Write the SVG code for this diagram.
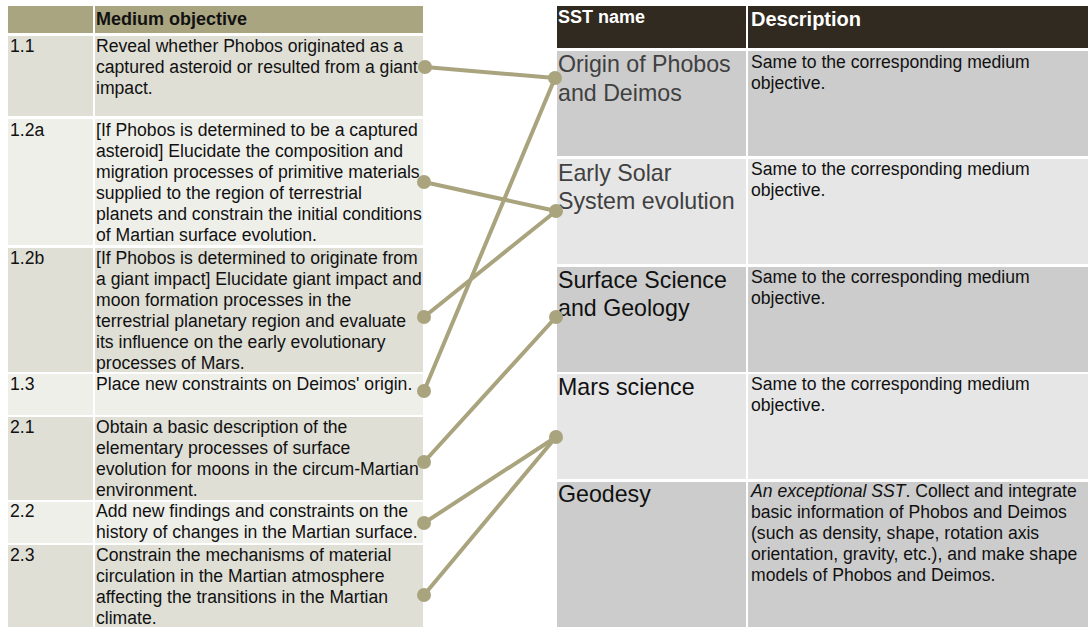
<svg xmlns="http://www.w3.org/2000/svg" width="1088" height="627" viewBox="0 0 1088 627">
<style>
text{font-family:"Liberation Sans",Arial,sans-serif}
.t{font-size:17.6px;fill:#111}
.hd{font-size:18px;font-weight:bold;fill:#111}
.hw{font-weight:bold;fill:#fff}
.sst{font-size:23.2px}
.g1{fill:#404040}
.g2{fill:#111}
.rA{fill:#dfdfd6}
.rB{fill:#efefea}
.cA{fill:#cccccc}
.cB{fill:#e6e6e6}
.con line{stroke:#a9a47e;stroke-width:4;stroke-linecap:round}
.con circle{fill:#a9a47e}
</style>
<rect width="1088" height="627" fill="#fff"/>
<g id="left-table">
<g id="left-header">
<rect x="8" y="6" width="85" height="27" fill="#aaa581"/>
<rect x="95" y="6" width="328" height="27" fill="#aaa581"/>
<text class="hd" x="96" y="25">Medium objective</text>
</g>
<g id="obj-1-1">
<rect class="rA" x="8" y="36" width="85" height="80"/>
<rect class="rA" x="95" y="36" width="328" height="80"/>
<text class="t" x="10" y="52">1.1</text>
<text class="t" x="96" y="52">Reveal whether Phobos originated as a</text>
<text class="t" x="96" y="73">captured asteroid or resulted from a giant</text>
<text class="t" x="96" y="94">impact.</text>
</g>
<g id="obj-1-2a">
<rect class="rB" x="8" y="119" width="85" height="126"/>
<rect class="rB" x="95" y="119" width="328" height="126"/>
<text class="t" x="10" y="136">1.2a</text>
<text class="t" x="96" y="136">[If Phobos is determined to be a captured</text>
<text class="t" x="96" y="157">asteroid] Elucidate the composition and</text>
<text class="t" x="96" y="178">migration processes of primitive materials</text>
<text class="t" x="96" y="199">supplied to the region of terrestrial</text>
<text class="t" x="96" y="220">planets and constrain the initial conditions</text>
<text class="t" x="96" y="241">of Martian surface evolution.</text>
</g>
<g id="obj-1-2b">
<rect class="rA" x="8" y="248" width="85" height="124"/>
<rect class="rA" x="95" y="248" width="328" height="124"/>
<text class="t" x="10" y="264">1.2b</text>
<text class="t" x="96" y="264">[If Phobos is determined to originate from</text>
<text class="t" x="96" y="285">a giant impact] Elucidate giant impact and</text>
<text class="t" x="96" y="306">moon formation processes in the</text>
<text class="t" x="96" y="327">terrestrial planetary region and evaluate</text>
<text class="t" x="96" y="348">its influence on the early evolutionary</text>
<text class="t" x="96" y="369">processes of Mars.</text>
</g>
<g id="obj-1-3">
<rect class="rB" x="8" y="374" width="85" height="41"/>
<rect class="rB" x="95" y="374" width="328" height="41"/>
<text class="t" x="10" y="390">1.3</text>
<text class="t" x="96" y="390">Place new constraints on Deimos' origin.</text>
</g>
<g id="obj-2-1">
<rect class="rA" x="8" y="417" width="85" height="83"/>
<rect class="rA" x="95" y="417" width="328" height="83"/>
<text class="t" x="10" y="433">2.1</text>
<text class="t" x="96" y="433">Obtain a basic description of the</text>
<text class="t" x="96" y="454">elementary processes of surface</text>
<text class="t" x="96" y="475">evolution for moons in the circum-Martian</text>
<text class="t" x="96" y="496">environment.</text>
</g>
<g id="obj-2-2">
<rect class="rB" x="8" y="502" width="85" height="41"/>
<rect class="rB" x="95" y="502" width="328" height="41"/>
<text class="t" x="10" y="517">2.2</text>
<text class="t" x="96" y="517">Add new findings and constraints on the</text>
<text class="t" x="96" y="538">history of changes in the Martian surface.</text>
</g>
<g id="obj-2-3">
<rect class="rA" x="8" y="545" width="85" height="82"/>
<rect class="rA" x="95" y="545" width="328" height="82"/>
<text class="t" x="10" y="561">2.3</text>
<text class="t" x="96" y="561">Constrain the mechanisms of material</text>
<text class="t" x="96" y="582">circulation in the Martian atmosphere</text>
<text class="t" x="96" y="603">affecting the transitions in the Martian</text>
<text class="t" x="96" y="624">climate.</text>
</g>
</g>
<g id="right-table">
<g id="right-header">
<rect x="557" y="6" width="189" height="42" fill="#302a20"/>
<rect x="748" y="6" width="340" height="42" fill="#302a20"/>
<text class="hw" x="558" y="23" font-size="18">SST name</text>
<text class="hw" x="751" y="26" font-size="20">Description</text>
</g>
<g id="sst-origin">
<rect class="cA" x="557" y="51" width="189" height="105"/>
<rect class="cA" x="748" y="51" width="340" height="105"/>
<text class="sst g1" x="558" y="72">Origin of Phobos</text>
<text class="sst g1" x="558" y="101">and Deimos</text>
<text class="t" x="751" y="68">Same to the corresponding medium</text>
<text class="t" x="751" y="89">objective.</text>
</g>
<g id="sst-early">
<rect class="cB" x="557" y="159" width="189" height="105"/>
<rect class="cB" x="748" y="159" width="340" height="105"/>
<text class="sst g1" x="558" y="181">Early Solar</text>
<text class="sst g1" x="558" y="209">System evolution</text>
<text class="t" x="751" y="175">Same to the corresponding medium</text>
<text class="t" x="751" y="196">objective.</text>
</g>
<g id="sst-surface">
<rect class="cA" x="557" y="267" width="189" height="105"/>
<rect class="cA" x="748" y="267" width="340" height="105"/>
<text class="sst g2" x="558" y="288">Surface Science</text>
<text class="sst g2" x="558" y="316">and Geology</text>
<text class="t" x="751" y="283">Same to the corresponding medium</text>
<text class="t" x="751" y="304">objective.</text>
</g>
<g id="sst-mars">
<rect class="cB" x="557" y="374" width="189" height="105"/>
<rect class="cB" x="748" y="374" width="340" height="105"/>
<text class="sst g2" x="558" y="395">Mars science</text>
<text class="t" x="751" y="390">Same to the corresponding medium</text>
<text class="t" x="751" y="411">objective.</text>
</g>
<g id="sst-geodesy">
<rect class="cA" x="557" y="482" width="189" height="145"/>
<rect class="cA" x="748" y="482" width="340" height="145"/>
<text class="sst g2" x="558" y="502">Geodesy</text>
<text class="t" x="751" y="497"><tspan font-style="italic">An exceptional SST</tspan>. Collect and integrate</text>
<text class="t" x="751" y="518">basic information of Phobos and Deimos</text>
<text class="t" x="751" y="539">(such as density, shape, rotation axis</text>
<text class="t" x="751" y="560">orientation, gravity, etc.), and make shape</text>
<text class="t" x="751" y="581">models of Phobos and Deimos.</text>
</g>
</g>
<g id="connectors" class="con">
<line x1="425" y1="67" x2="555" y2="78"/>
<line x1="424" y1="182" x2="556" y2="211"/>
<line x1="424" y1="317" x2="556" y2="211"/>
<line x1="424" y1="391" x2="555" y2="78"/>
<line x1="424" y1="462" x2="556" y2="317"/>
<line x1="424" y1="523" x2="556" y2="437"/>
<line x1="424" y1="595" x2="556" y2="437"/>
<circle cx="425" cy="67" r="7"/>
<circle cx="424" cy="182" r="7"/>
<circle cx="424" cy="317" r="7"/>
<circle cx="424" cy="391" r="7"/>
<circle cx="424" cy="462" r="7"/>
<circle cx="424" cy="523" r="7"/>
<circle cx="424" cy="595" r="7"/>
<circle cx="555" cy="78" r="7"/>
<circle cx="556" cy="211" r="7"/>
<circle cx="556" cy="317" r="7"/>
<circle cx="556" cy="437" r="7"/>
</g>
</svg>
